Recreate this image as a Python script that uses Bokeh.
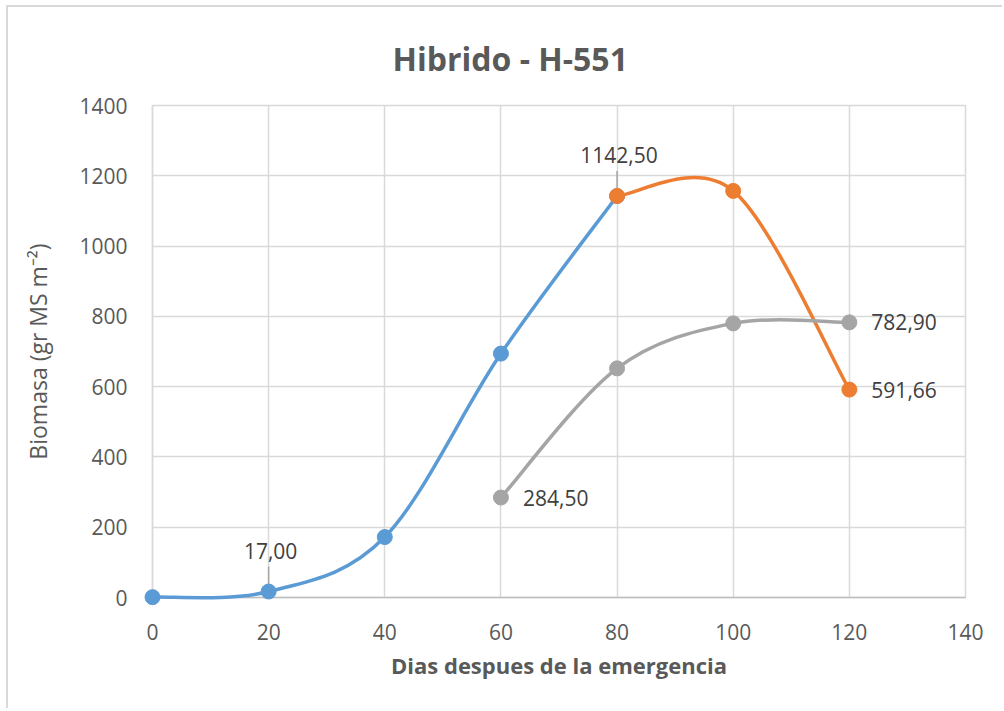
from bokeh.plotting import figure
from bokeh.models import Label, Range1d, FixedTicker
from bokeh.embed import file_html
from bokeh.resources import INLINE

# ---- data ----
title_text = "Hibrido - H-551"
x_label = "Dias despues de la emergencia"
y_label = "Biomasa (gr MS m\u207b\u00b2)"

blue_x = [0, 20, 40, 60, 80]
blue_y = [1.0, 17.0, 172.0, 694.0, 1142.5]

orange_x = [80, 100, 120]
orange_y = [1142.5, 1157.0, 591.66]

gray_x = [60, 80, 100, 120]
gray_y = [284.5, 652.0, 780.0, 782.9]

x_ticks = [0, 20, 40, 60, 80, 100, 120, 140]
y_ticks = [0, 200, 400, 600, 800, 1000, 1200, 1400]

BLUE = "#5B9BD5"
ORANGE = "#ED7D31"
GRAY = "#A5A5A5"
FONT = "Open Sans"

X_MIN, X_MAX, Y_MIN, Y_MAX = 0, 140, 0, 1400

# page geometry (canvas origin offset by the chart-area border)
OX, OY = 8, 7
FL, FR, FT, FB = 152 - OX, 965 - OX, 105 - OY, 597 - OY
W, H = 1004 - OX, 711 - OY - 1
frame_h = FB - FT

p = figure(width=W, height=H, output_backend="svg", toolbar_location=None,
           x_range=Range1d(X_MIN, X_MAX), y_range=Range1d(Y_MIN, Y_MAX),
           min_border_left=FL, min_border_right=W - FR,
           min_border_top=FT, min_border_bottom=H - FB)
p.styles = {"margin-left": "6px", "margin-top": "5px",
            "border-left": "2px solid #D9D9D9", "border-top": "2px solid #D9D9D9",
            "border-right": "0px none", "border-bottom": "0px none"}
p.background_fill_color = "white"
p.border_fill_color = "white"
p.outline_line_color = "#D9D9D9"
p.outline_line_width = 1.5

for ax in (p.xaxis[0], p.yaxis[0]):
    ax.major_tick_line_color = None
    ax.minor_tick_line_color = None
    ax.axis_line_color = "#BFBFBF"
    ax.axis_line_width = 1.5
    ax.major_label_text_font = FONT
    ax.major_label_text_font_size = "21px"
    ax.major_label_text_color = "#595959"
    ax.axis_label_text_font = FONT
    ax.axis_label_text_color = "#595959"
    ax.axis_label_text_font_style = "normal"

p.xaxis.ticker = FixedTicker(ticks=x_ticks)
p.yaxis.ticker = FixedTicker(ticks=y_ticks)
p.xaxis.axis_label = x_label
p.xaxis.axis_label_text_font_style = "bold"
p.xaxis.axis_label_text_font_size = "22px"
p.yaxis.axis_label = y_label
p.yaxis.axis_label_text_font_size = "23px"
p.xaxis.major_label_standoff = 20
p.xaxis.axis_label_standoff = 7
p.yaxis.major_label_standoff = 19
p.yaxis.axis_label_standoff = 22
p.yaxis.axis_line_color = "#D9D9D9"

p.xgrid.ticker = FixedTicker(ticks=x_ticks)
p.ygrid.ticker = FixedTicker(ticks=y_ticks)
p.xgrid.grid_line_color = "#D9D9D9"
p.ygrid.grid_line_color = "#D9D9D9"
p.xgrid.grid_line_width = 1.5
p.ygrid.grid_line_width = 1.5

# title
p.title.text = title_text
p.title.align = "left"
p.title.offset = 392 - 152
p.title.standoff = 52
p.title.text_font = FONT
p.title.text_font_style = "bold"
p.title.text_font_size = "32px"
p.title.text_color = "#595959"


def smooth(xs, ys):
    n = len(xs)
    x0, y0, x1, y1, cx0, cy0, cx1, cy1 = [], [], [], [], [], [], [], []
    for i in range(n - 1):
        a = i - 1 if i > 0 else i
        d = i + 2 if i + 2 < n else i + 1
        x0.append(xs[i]); y0.append(ys[i])
        x1.append(xs[i + 1]); y1.append(ys[i + 1])
        cx0.append(xs[i] + (xs[i + 1] - xs[a]) / 6.0)
        cy0.append(ys[i] + (ys[i + 1] - ys[a]) / 6.0)
        cx1.append(xs[i + 1] - (xs[d] - xs[i]) / 6.0)
        cy1.append(ys[i + 1] - (ys[d] - ys[i]) / 6.0)
    return dict(x0=x0, y0=y0, x1=x1, y1=y1, cx0=cx0, cy0=cy0, cx1=cx1, cy1=cy1)


for xs, ys, col in ((blue_x, blue_y, BLUE), (orange_x, orange_y, ORANGE), (gray_x, gray_y, GRAY)):
    s = smooth(xs, ys)
    p.bezier(x0=s["x0"], y0=s["y0"], x1=s["x1"], y1=s["y1"],
             cx0=s["cx0"], cy0=s["cy0"], cx1=s["cx1"], cy1=s["cy1"],
             line_color=col, line_width=3.5, level="overlay")
    p.scatter(xs, ys, size=15, fill_color=col, line_color=col, level="overlay")

# data labels
px2y = (Y_MAX - Y_MIN) / frame_h
LBL_COLOR = "#404040"


def top_label(x, yv, txt):
    p.segment(x0=[x], y0=[yv + 5 * px2y], x1=[x], y1=[yv + 25 * px2y],
              line_color="#A6A6A6", line_width=1.5)
    p.add_layout(Label(x=x, y=yv, text=txt, y_offset=41, x_offset=2,
                       text_align="center", text_baseline="middle",
                       text_font=FONT, text_font_size="21px", text_color=LBL_COLOR))


def right_label(x, yv, txt):
    p.add_layout(Label(x=x, y=yv, text=txt, x_offset=22, y_offset=0,
                       text_align="left", text_baseline="middle",
                       text_font=FONT, text_font_size="21px", text_color=LBL_COLOR))


def fmt(v):
    return f"{v:.2f}".replace(".", ",")


top_label(blue_x[1], blue_y[1], fmt(blue_y[1]))
top_label(blue_x[4], blue_y[4], fmt(blue_y[4]))
right_label(gray_x[0], gray_y[0], fmt(gray_y[0]))
right_label(gray_x[-1], gray_y[-1], fmt(gray_y[-1]))
right_label(orange_x[-1], orange_y[-1], fmt(orange_y[-1]))

open("out.html", "w").write(file_html(p, INLINE))
